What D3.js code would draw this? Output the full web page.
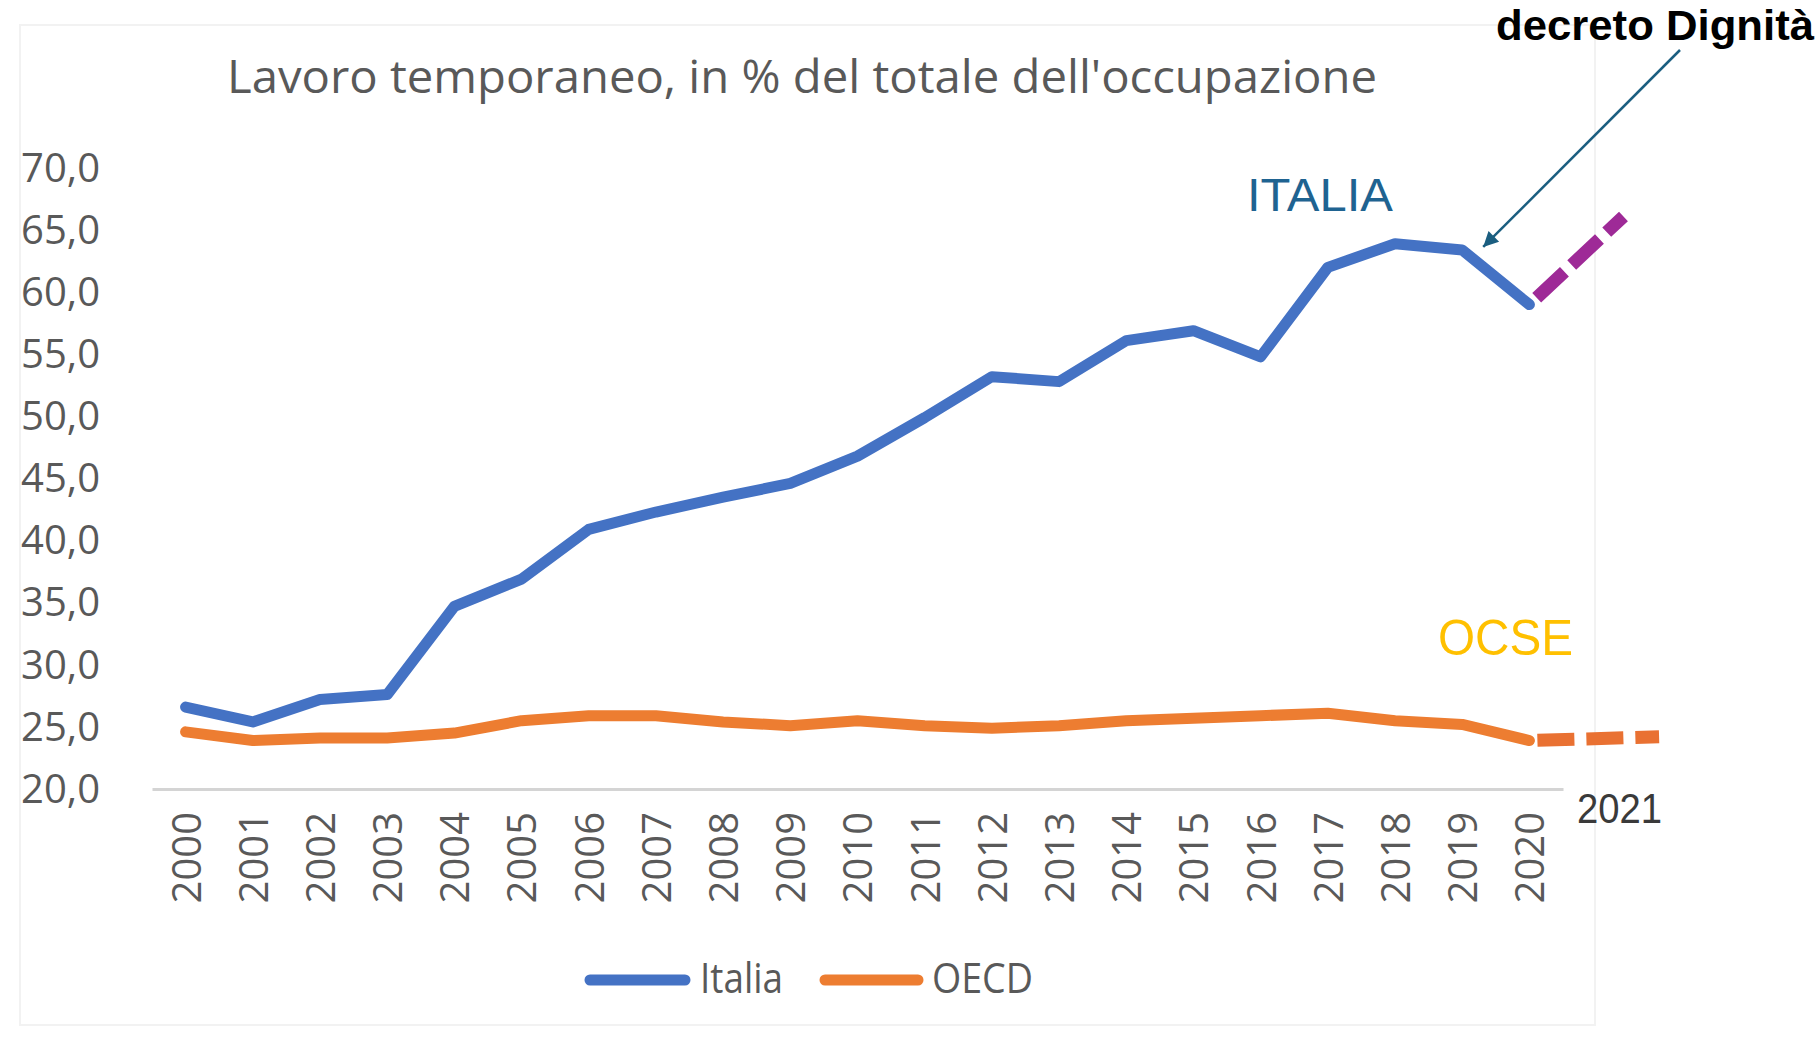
<!DOCTYPE html>
<html>
<head>
<meta charset="utf-8">
<script src="https://cdn.jsdelivr.net/npm/d3@7"></script>
<style>
  html, body { margin: 0; padding: 0; background: #ffffff; }
  svg { display: block; }
</style>
</head>
<body>
<svg id="chart" width="1819" height="1044"></svg>
<script>
// ---------- data ----------
const years = ["2000","2001","2002","2003","2004","2005","2006","2007","2008","2009","2010",
               "2011","2012","2013","2014","2015","2016","2017","2018","2019","2020"];
const italia = [26.6, 25.4, 27.2, 27.6, 34.7, 36.9, 40.9, 42.3, 43.5, 44.6, 46.8,
                49.9, 53.2, 52.8, 56.1, 56.9, 54.8, 62.0, 63.9, 63.4, 59.0];
const oecd   = [24.6, 23.9, 24.1, 24.1, 24.5, 25.5, 25.9, 25.9, 25.4, 25.1, 25.5,
                25.1, 24.9, 25.1, 25.5, 25.7, 25.9, 26.1, 25.5, 25.2, 23.9];
const yTicks = [20, 25, 30, 35, 40, 45, 50, 55, 60, 65, 70];
// projections beyond 2020 (year position, value)
const italiaProjYears = [2020, 2021.4];
const italiaProjValues = [59.0, 66.1];
const oecdProjYears = [2020, 2021.93];
const oecdProjValues = [23.9, 24.2];
const seriesNames = ["Italia", "OECD"];
const titleText = "Lavoro temporaneo, in % del totale dell'occupazione";

// ---------- setup ----------
const svg = d3.select("#chart");
const colors = { Italia: "#4472C4", OECD: "#ED7D31" };

const x = d3.scalePoint().domain(years).range([152, 1563]).padding(0.5);
const xYear = d3.scaleLinear().domain([2000, 2020]).range([x("2000"), x("2020")]);
const y = d3.scaleLinear().domain([20, 70]).range([789, 168]);

// faint chart border
svg.append("rect").attr("x", 20).attr("y", 25).attr("width", 1575).attr("height", 1000)
  .attr("fill", "none").attr("stroke", "#f2f2f2").attr("stroke-width", 2);

// title
svg.append("text").attr("x", 227).attr("y", 93)
  .attr("font-family", "'Open Sans', sans-serif").attr("font-size", 46)
  .attr("fill", "#595959").attr("textLength", 1150).attr("lengthAdjust", "spacingAndGlyphs")
  .text(titleText);

// y axis labels (no line)
const yAxis = d3.axisLeft(y).tickValues(yTicks).tickSize(0).tickPadding(0)
  .tickFormat(d => d3.format(".1f")(d).replace(".", ","));
const gy = svg.append("g").attr("transform", "translate(100,0)").call(yAxis);
gy.select(".domain").remove();
gy.selectAll("text").attr("font-family", "'Open Sans', sans-serif").attr("font-size", 40)
  .attr("fill", "#595959").attr("dy", "0.33em");

// x axis
const xAxis = d3.axisBottom(x).tickSize(0).tickPadding(0);
const gx = svg.append("g").attr("transform", `translate(0,${y(20)})`).call(xAxis);
gx.select(".domain").attr("stroke", "#d4d4d4").attr("stroke-width", 3);
gx.selectAll("text")
  .attr("font-family", "'Open Sans', sans-serif").attr("font-size", 40).attr("fill", "#595959")
  .attr("text-anchor", "end")
  .attr("transform", "translate(0,23) rotate(-90)")
  .attr("x", 0).attr("y", 0).attr("dy", "0.36em");

// lines
const line = d3.line().x((d, i) => x(years[i])).y(d => y(d));
svg.append("path").datum(oecd).attr("d", line).attr("fill", "none")
  .attr("stroke", colors.OECD).attr("stroke-width", 11)
  .attr("stroke-linejoin", "round").attr("stroke-linecap", "round");
svg.append("path").datum(italia).attr("d", line).attr("fill", "none")
  .attr("stroke", colors.Italia).attr("stroke-width", 11)
  .attr("stroke-linejoin", "round").attr("stroke-linecap", "round");

// projections
const projLine = d3.line().x(d => xYear(d[0])).y(d => y(d[1]));
svg.append("path").datum(italiaProjYears.map((yr, i) => [yr, italiaProjValues[i]]))
  .attr("d", projLine).attr("fill", "none").attr("stroke", "#9E2A97").attr("stroke-width", 13)
  .attr("stroke-dasharray", "38 10").attr("stroke-dashoffset", 38);
svg.append("path").datum(oecdProjYears.map((yr, i) => [yr, oecdProjValues[i]]))
  .attr("d", projLine).attr("fill", "none").attr("stroke", "#E97132").attr("stroke-width", 13)
  .attr("stroke-dasharray", "37 12").attr("stroke-dashoffset", 41);

// "2021" label
svg.append("text").attr("x", 1577).attr("y", 823)
  .attr("font-family", "'Liberation Sans', Arial, sans-serif").attr("font-size", 42)
  .attr("fill", "#3a3a3a").attr("textLength", 85).attr("lengthAdjust", "spacingAndGlyphs")
  .text("2021");

// series annotations
svg.append("text").attr("x", 1247).attr("y", 211)
  .attr("font-family", "'Liberation Sans', Arial, sans-serif").attr("font-size", 47)
  .attr("fill", "#1F6391").attr("textLength", 146).attr("lengthAdjust", "spacingAndGlyphs")
  .text("ITALIA");
svg.append("text").attr("x", 1438).attr("y", 655)
  .attr("font-family", "'Liberation Sans', Arial, sans-serif").attr("font-size", 50)
  .attr("fill", "#FFC000").attr("textLength", 135).attr("lengthAdjust", "spacingAndGlyphs")
  .text("OCSE");

// decreto Dignità annotation
svg.append("text").attr("x", 1496).attr("y", 40)
  .attr("font-family", "'Liberation Sans', Arial, sans-serif").attr("font-size", 42)
  .attr("font-weight", "bold").attr("fill", "#000000")
  .attr("textLength", 318).attr("lengthAdjust", "spacingAndGlyphs")
  .text("decreto Dignità");

const defs = svg.append("defs");
defs.append("marker").attr("id", "arrow").attr("viewBox", "0 0 10 10")
  .attr("refX", 10).attr("refY", 5).attr("markerWidth", 7).attr("markerHeight", 6)
  .attr("markerUnits", "strokeWidth").attr("orient", "auto")
  .append("path").attr("d", "M0,0 L10,5 L0,10 z").attr("fill", "#1B5E80");
svg.append("line")
  .attr("x1", 1680).attr("y1", 50)
  .attr("x2", x("2019") + 21).attr("y2", y(italia[19]) - 3)
  .attr("stroke", "#1B5E80").attr("stroke-width", 2.5).attr("marker-end", "url(#arrow)");

// legend
const legendItems = [
  { name: seriesNames[0], x1: 590, x2: 685, tx: 700, tw: 83 },
  { name: seriesNames[1], x1: 825, x2: 918, tx: 932, tw: 101 }
];
const lg = svg.append("g");
legendItems.forEach(it => {
  lg.append("line").attr("x1", it.x1).attr("x2", it.x2).attr("y1", 980).attr("y2", 980)
    .attr("stroke", colors[it.name]).attr("stroke-width", 11).attr("stroke-linecap", "round");
  lg.append("text").attr("x", it.tx).attr("y", 993)
    .attr("font-family", "'Open Sans', sans-serif").attr("font-size", 42).attr("fill", "#595959")
    .attr("textLength", it.tw).attr("lengthAdjust", "spacingAndGlyphs").text(it.name);
});
</script>
</body>
</html>
